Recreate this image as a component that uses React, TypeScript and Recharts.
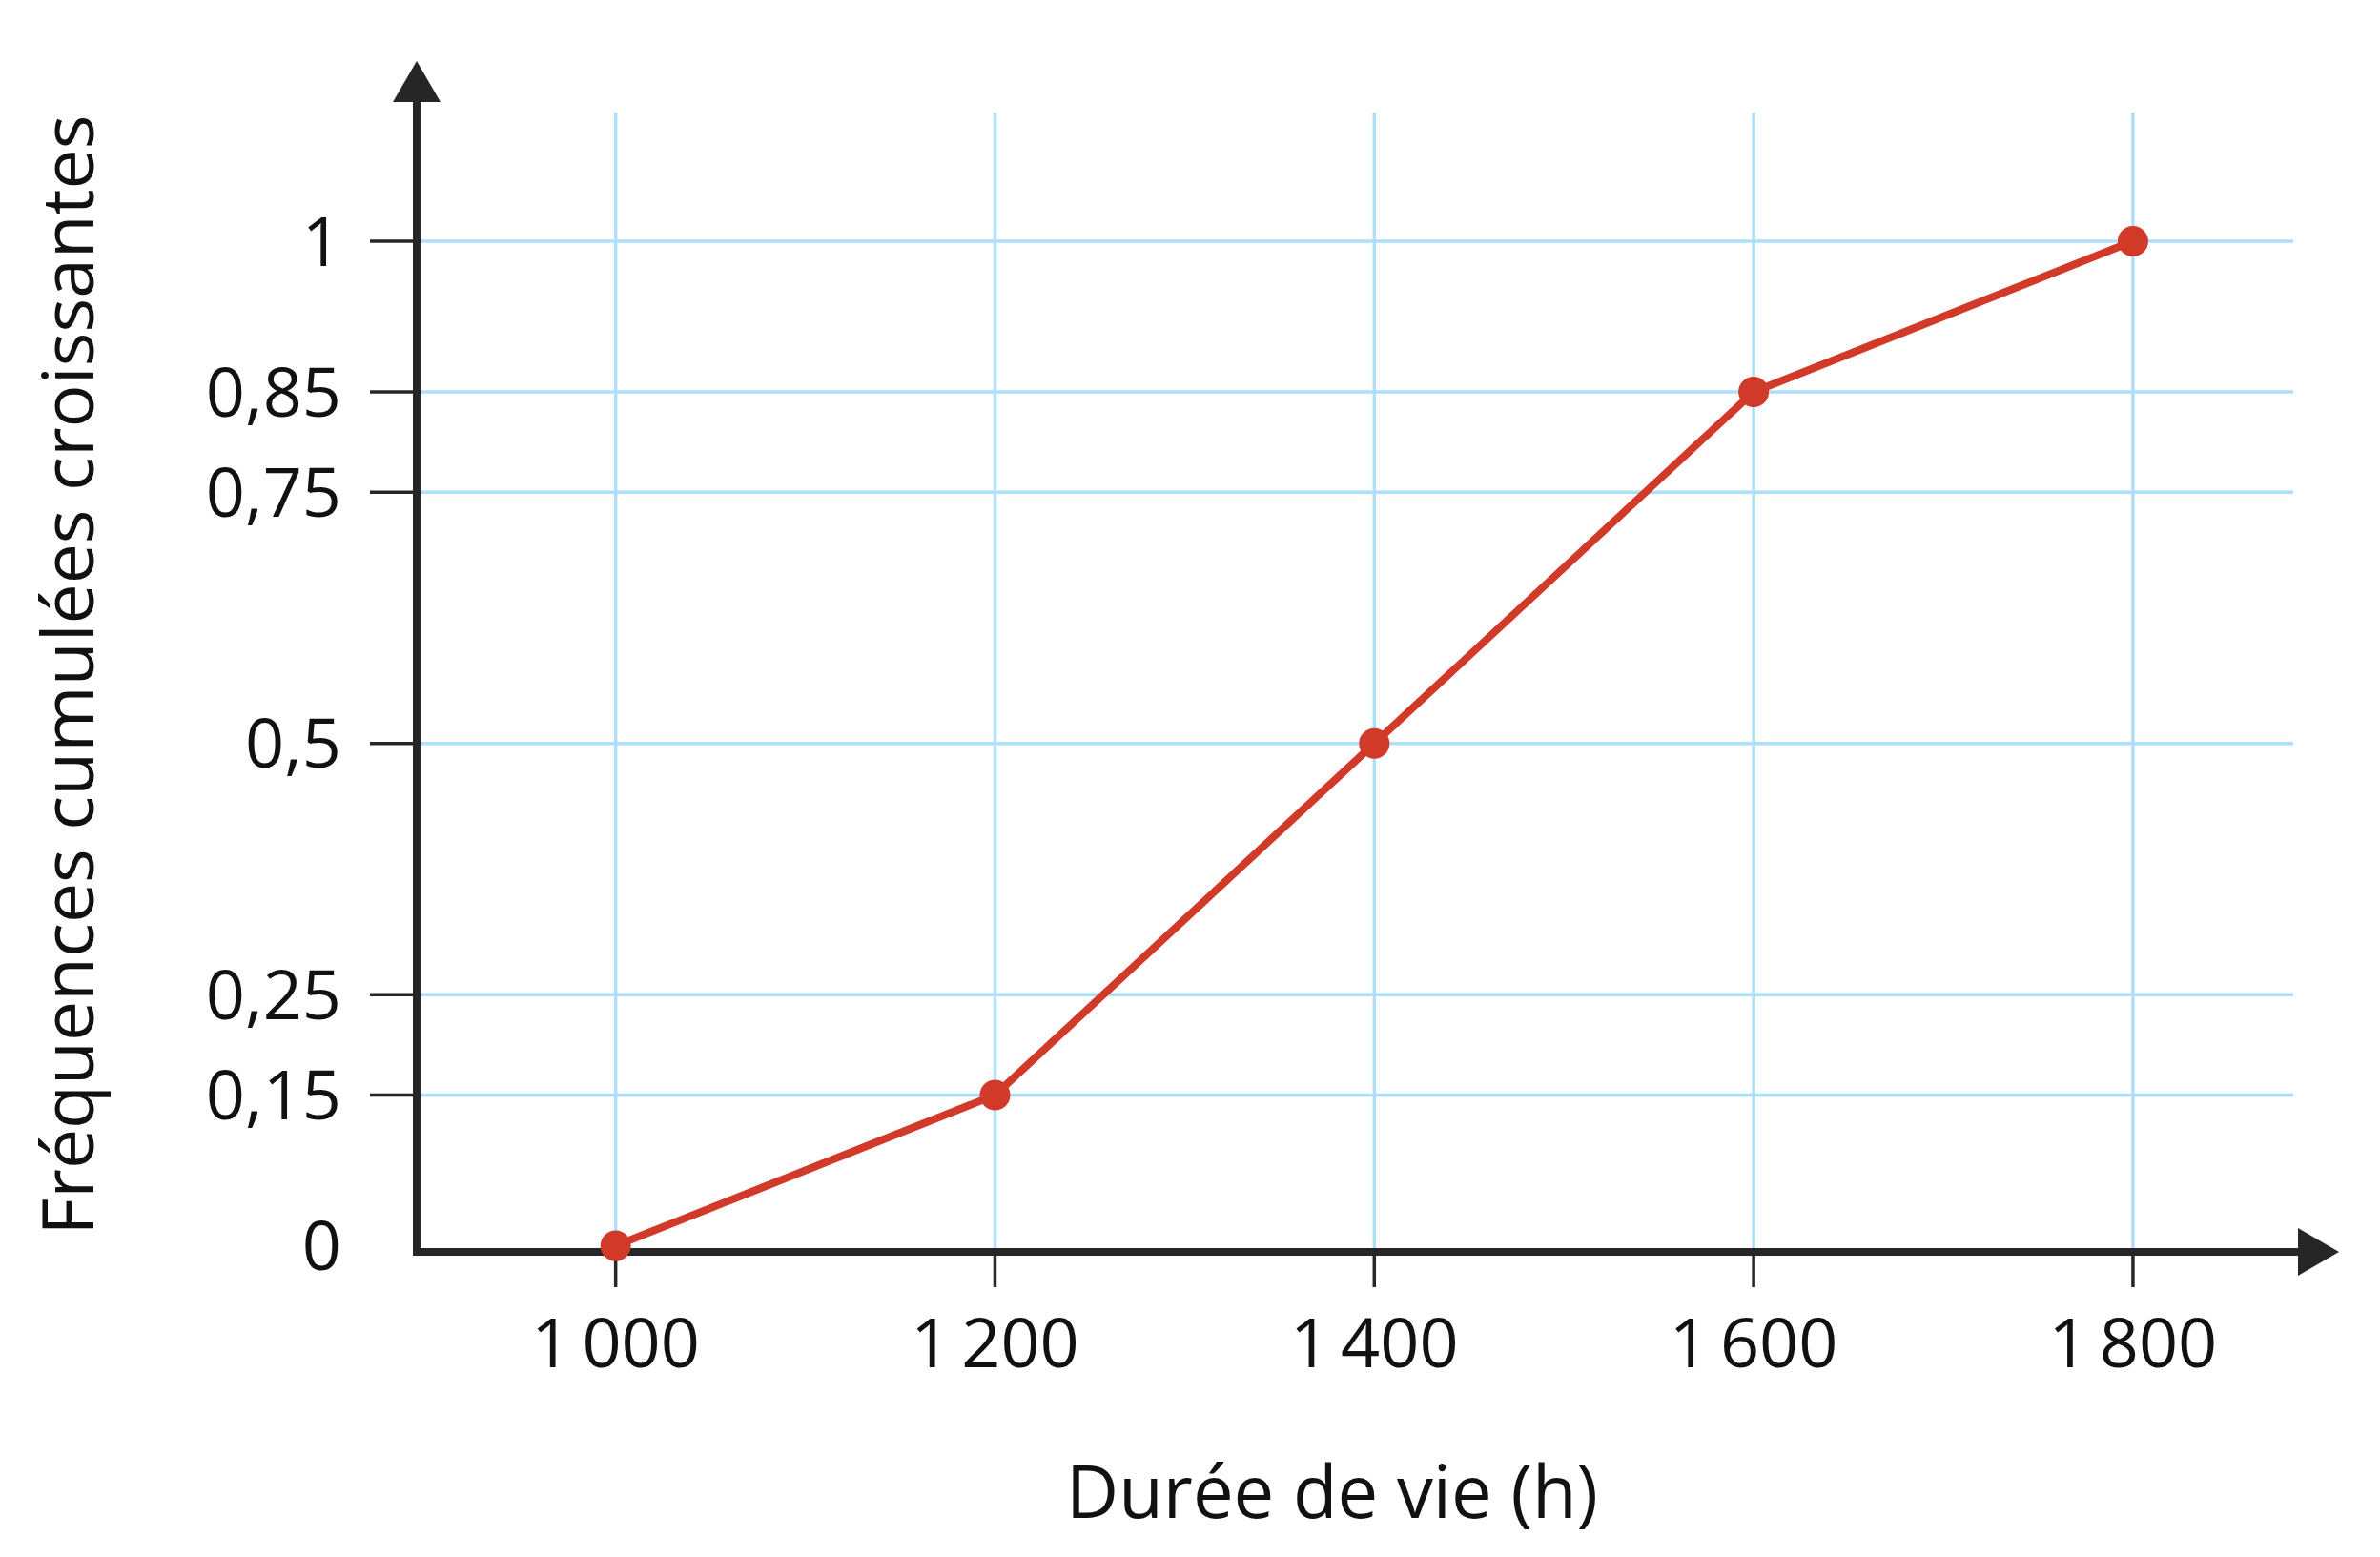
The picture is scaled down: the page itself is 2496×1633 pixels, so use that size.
import React from 'react';
import { LineChart, Line, XAxis, YAxis, CartesianGrid } from 'recharts';

// ---- data ----
const X_VALUES = [1000, 1200, 1400, 1600, 1800];
const Y_VALUES = [0, 0.15, 0.5, 0.85, 1];
const X_TICKS = [1000, 1200, 1400, 1600, 1800];
const X_TICK_LABELS = ['1\u2009000', '1\u2009200', '1\u2009400', '1\u2009600', '1\u2009800'];
const Y_TICKS = [0, 0.15, 0.25, 0.5, 0.75, 0.85, 1];
const Y_TICK_LABELS = ['0', '0,15', '0,25', '0,5', '0,75', '0,85', '1'];
const X_TITLE = 'Durée de vie (h)';
const Y_TITLE = 'Fréquences cumulées croissantes';

// axis extents (data units)
const X_MIN = 895.1;
const X_MAX = 1884.5;
const Y_MIN = -0.0061;
const Y_MAX = 1.1281;

const data = X_VALUES.map((x, i) => ({ x, y: Y_VALUES[i] }));

// ---- layout / style ----
const CHART_W = 2496;
const CHART_H = 1633;
const MARGIN = { top: 118, right: 91, bottom: 0, left: 0 };
const Y_AXIS_W = 437;
const X_AXIS_H = 320;
const PLOT_LEFT = MARGIN.left + Y_AXIS_W;
const PLOT_BOTTOM = CHART_H - MARGIN.bottom - X_AXIS_H;

const FONT = '"Open Sans", "Noto Sans", sans-serif';
const AXIS_COLOR = '#262626';
const GRID_COLOR = '#ade0f8';
const LINE_COLOR = '#d13a29';
const TEXT_COLOR = '#111111';
const AXIS_W = 8;
const GRID_W = 3.5;
const Y_TICK_SIZE = 49;
const Y_TICK_MARGIN = 30;
const ARROW_LEN = 43;
const ARROW_HALF = 25;
const X_ARROW_EXTRA = 48; // beyond grid right edge
const Y_ARROW_EXTRA = 54; // beyond grid top edge

const YTick = (props: any) => {
  const { x, y, payload } = props;
  const idx = Y_TICKS.indexOf(payload.value);
  const label = idx >= 0 ? Y_TICK_LABELS[idx] : String(payload.value);
  return (
    <g>
      {payload.value !== 0 && (
        <line
          x1={x + Y_TICK_MARGIN}
          x2={x + Y_TICK_MARGIN + Y_TICK_SIZE}
          y1={y}
          y2={y}
          stroke={AXIS_COLOR}
          strokeWidth={3.5}
        />
      )}
      <text x={x} y={y} dy="0.355em" textAnchor="end" fontSize={72} fontFamily={FONT} fill={TEXT_COLOR}>
        {label}
      </text>
    </g>
  );
};

const HLine = (props: any) => {
  const { x1, x2, y1 } = props;
  if (Math.abs(y1 - PLOT_BOTTOM) < 1) {
    const tip = x2 + X_ARROW_EXTRA;
    return (
      <g key={props.key}>
        <line x1={x1} y1={y1} x2={tip - ARROW_LEN} y2={y1} stroke={AXIS_COLOR} strokeWidth={AXIS_W} strokeLinecap="square" />
        <polygon
          points={`${tip - ARROW_LEN},${y1 - ARROW_HALF} ${tip},${y1} ${tip - ARROW_LEN},${y1 + ARROW_HALF}`}
          fill={AXIS_COLOR}
        />
      </g>
    );
  }
  return <line key={props.key} x1={x1} y1={y1} x2={x2} y2={y1} stroke={GRID_COLOR} strokeWidth={GRID_W} />;
};

const VLine = (props: any) => {
  const { x1, y1, y2 } = props;
  if (Math.abs(x1 - PLOT_LEFT) < 1) {
    const tip = y1 - Y_ARROW_EXTRA;
    return (
      <g key={props.key}>
        <line x1={x1} y1={y2} x2={x1} y2={tip + ARROW_LEN} stroke={AXIS_COLOR} strokeWidth={AXIS_W} strokeLinecap="square" />
        <polygon
          points={`${x1 - ARROW_HALF},${tip + ARROW_LEN} ${x1},${tip} ${x1 + ARROW_HALF},${tip + ARROW_LEN}`}
          fill={AXIS_COLOR}
        />
      </g>
    );
  }
  return <line key={props.key} x1={x1} y1={y1} x2={x1} y2={y2 - AXIS_W / 2} stroke={GRID_COLOR} strokeWidth={GRID_W} />;
};

const GRID_H_VALUES = [Y_MIN, ...Y_TICKS.filter((v) => v !== 0)];
const GRID_V_VALUES = [X_MIN, ...X_TICKS];

export default function App() {
  return (
    <div style={{ position: 'absolute', left: 0, top: 0, background: '#ffffff' }}>
      <LineChart width={CHART_W} height={CHART_H} data={data} margin={MARGIN}>
        <CartesianGrid
          horizontalValues={GRID_H_VALUES}
          verticalValues={GRID_V_VALUES}
          horizontal={(p: any) => <HLine {...p} />}
          vertical={(p: any) => <VLine {...p} />}
        />
        <XAxis
          type="number"
          dataKey="x"
          domain={[X_MIN, X_MAX]}
          ticks={X_TICKS}
          interval={0}
          height={X_AXIS_H}
          axisLine={false}
          tickLine={{ stroke: AXIS_COLOR, strokeWidth: 3.5 }}
          tickSize={37}
          tickMargin={33}
          tickFormatter={(v: number) => {
            const i = X_TICKS.indexOf(v);
            return i >= 0 ? X_TICK_LABELS[i] : String(v);
          }}
          tick={{ fontSize: 72, fontFamily: FONT, fill: TEXT_COLOR }}
          label={{
            content: () => (
              <text x={1397} y={1592} textAnchor="middle" fontSize={76} fontFamily={FONT} fill={TEXT_COLOR}>
                {X_TITLE}
              </text>
            ),
          }}
        />
        <YAxis
          type="number"
          dataKey="y"
          domain={[Y_MIN, Y_MAX]}
          ticks={Y_TICKS}
          interval={0}
          width={Y_AXIS_W}
          axisLine={false}
          tickLine={false}
          tickSize={Y_TICK_SIZE}
          tickMargin={Y_TICK_MARGIN}
          tick={<YTick />}
          label={{
            content: () => (
              <text
                x={98}
                y={708}
                transform="rotate(-90 98 708)"
                textAnchor="middle"
                fontSize={75}
                fontFamily={FONT}
                fill={TEXT_COLOR}
              >
                {Y_TITLE}
              </text>
            ),
          }}
        />
        <Line
          type="linear"
          dataKey="y"
          stroke={LINE_COLOR}
          strokeWidth={8}
          dot={{ r: 16, fill: LINE_COLOR, stroke: 'none' }}
          activeDot={false}
          isAnimationActive={false}
        />
      </LineChart>
    </div>
  );
}
